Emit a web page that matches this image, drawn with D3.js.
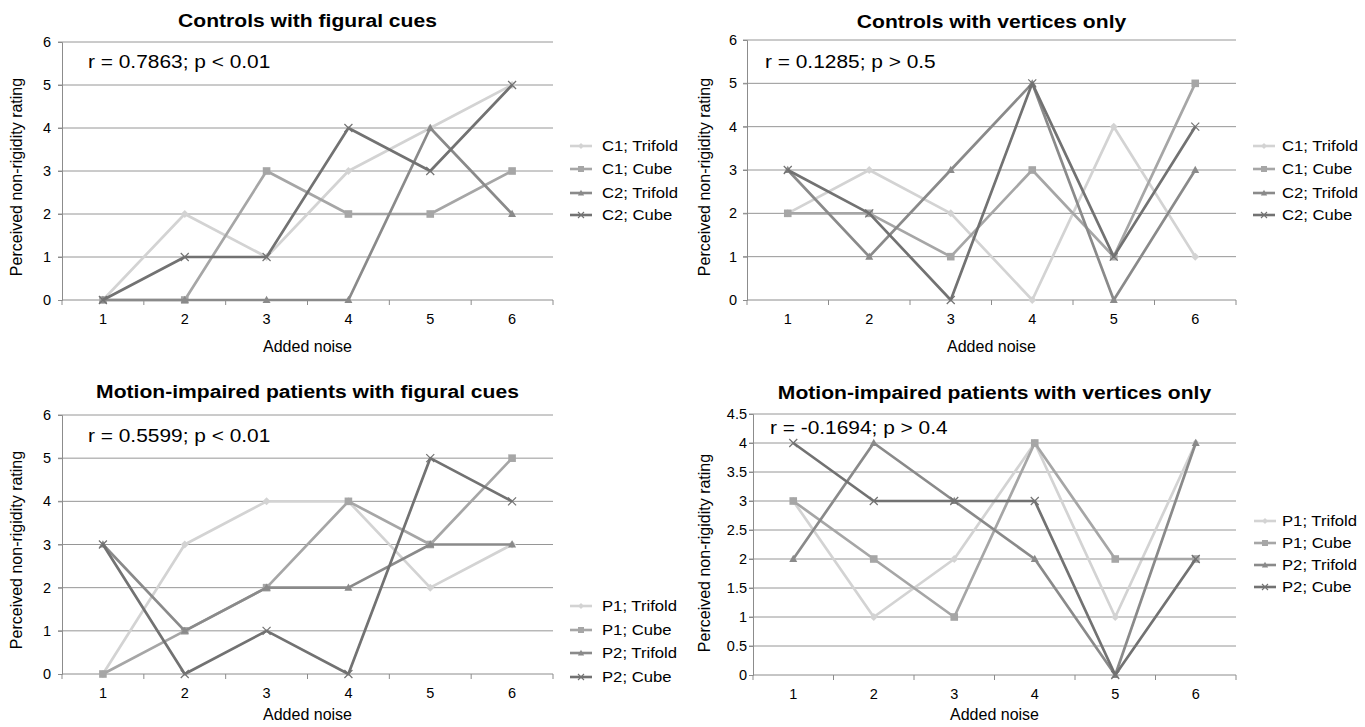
<!DOCTYPE html>
<html>
<head>
<meta charset="utf-8">
<script src="https://cdn.jsdelivr.net/npm/d3@7"></script>
<style>
  html, body { margin: 0; padding: 0; background: #fff; }
  svg { display: block; }
  text { font-family: "Liberation Sans", Arial, sans-serif; fill: #000; }
</style>
</head>
<body>
<svg id="chart" width="1365" height="727"></svg>
<script>
// ---------------- DATA ----------------
const noiseLevels = [1, 2, 3, 4, 5, 6];
const ticks0to6 = [0, 1, 2, 3, 4, 5, 6];
const ticks0to45 = [0, 0.5, 1, 1.5, 2, 2.5, 3, 3.5, 4, 4.5];

const controlNames = ["C1; Trifold", "C1; Cube", "C2; Trifold", "C2; Cube"];
const patientNames = ["P1; Trifold", "P1; Cube", "P2; Trifold", "P2; Cube"];

// Controls with figural cues
const cfC1Trifold = [0, 2, 1, 3, 4, 5];
const cfC1Cube    = [0, 0, 3, 2, 2, 3];
const cfC2Trifold = [0, 0, 0, 0, 4, 2];
const cfC2Cube    = [0, 1, 1, 4, 3, 5];

// Controls with vertices only
const cvC1Trifold = [2, 3, 2, 0, 4, 1];
const cvC1Cube    = [2, 2, 1, 3, 1, 5];
const cvC2Trifold = [3, 1, 3, 5, 0, 3];
const cvC2Cube    = [3, 2, 0, 5, 1, 4];

// Motion-impaired patients with figural cues
const pfP1Trifold = [0, 3, 4, 4, 2, 3];
const pfP1Cube    = [0, 1, 2, 4, 3, 5];
const pfP2Trifold = [3, 1, 2, 2, 3, 3];
const pfP2Cube    = [3, 0, 1, 0, 5, 4];

// Motion-impaired patients with vertices only
const pvP1Trifold = [3, 1, 2, 4, 1, 4];
const pvP1Cube    = [3, 2, 1, 4, 2, 2];
const pvP2Trifold = [2, 4, 3, 2, 0, 4];
const pvP2Cube    = [4, 3, 3, 3, 0, 2];

const titles = [
  "Controls with figural cues",
  "Controls with vertices only",
  "Motion-impaired patients with figural cues",
  "Motion-impaired patients with vertices only"
];
const annotations = [
  "r = 0.7863; p < 0.01",
  "r = 0.1285; p > 0.5",
  "r = 0.5599; p < 0.01",
  "r = -0.1694; p > 0.4"
];
const xAxisTitle = "Added noise";
const yAxisTitle = "Perceived non-rigidity rating";

// ---------------- STYLE / LAYOUT ----------------
const seriesColors = ["#d3d3d3", "#a6a6a6", "#8a8a8a", "#727272"];
const markerTypes = ["diamond", "square", "triangle", "x"];
const gridColor = "#969696";
const axisColor = "#8c8c8c";

const panels = [
  { series: [cfC1Trifold, cfC1Cube, cfC2Trifold, cfC2Cube], names: controlNames, ticks: ticks0to6, yMax: 6,
    x0: 62, x1: 553, yTop: 42, yBot: 300, titleY: 27, annX: 88, annY: 68, xTitleY: 352,
    yTitleX: 17, yTitleC: 177, tickGap: 11, legLine: 570, legText: 602, legRows: [146, 169, 193, 215] },
  { series: [cvC1Trifold, cvC1Cube, cvC2Trifold, cvC2Cube], names: controlNames, ticks: ticks0to6, yMax: 6,
    x0: 747, x1: 1236, yTop: 40, yBot: 300, titleY: 28, annX: 765, annY: 68, xTitleY: 352,
    yTitleX: 705, yTitleC: 177, tickGap: 10, legLine: 1253, legText: 1282, legRows: [146, 169, 193, 215] },
  { series: [pfP1Trifold, pfP1Cube, pfP2Trifold, pfP2Cube], names: patientNames, ticks: ticks0to6, yMax: 6,
    x0: 62, x1: 553, yTop: 415, yBot: 674, titleY: 398, annX: 88, annY: 442, xTitleY: 720,
    yTitleX: 17, yTitleC: 550, tickGap: 11, legLine: 570, legText: 602, legRows: [606, 630, 653, 677] },
  { series: [pvP1Trifold, pvP1Cube, pvP2Trifold, pvP2Cube], names: patientNames, ticks: ticks0to45, yMax: 4.5,
    x0: 753, x1: 1236, yTop: 414, yBot: 675, titleY: 399, annX: 770, annY: 434, xTitleY: 720,
    yTitleX: 705, yTitleC: 553, tickGap: 6, legLine: 1254, legText: 1282, legRows: [521, 543, 565, 587] }
];

const svg = d3.select("#chart");

function markerPath(type, r) {
  if (type === "diamond") return `M0,${-r}L${r},0L0,${r}L${-r},0Z`;
  if (type === "square") return `M${-r},${-r}H${r}V${r}H${-r}Z`;
  if (type === "triangle") return `M0,${-r * 1.1}L${r * 1.05},${r * 0.8}L${-r * 1.05},${r * 0.8}Z`;
  return `M${-r},${-r}L${r},${r}M${-r},${r}L${r},${-r}`;
}

function stretchedText(g, x, y, str, opts) {
  return g.append("text")
    .attr("transform", `translate(${x},${y}) scale(${opts.sx || 1},1)`)
    .attr("text-anchor", opts.anchor || "start")
    .style("font-size", opts.size + "px")
    .style("font-weight", opts.weight || "normal")
    .text(str);
}

panels.forEach((p, pi) => {
  const g = svg.append("g");
  const x = d3.scaleBand().domain(noiseLevels).range([p.x0, p.x1]).paddingInner(0).paddingOuter(0);
  const y = d3.scaleLinear().domain([0, p.yMax]).range([p.yBot, p.yTop]);
  const cx = v => x(v) + x.bandwidth() / 2;

  // gridlines
  g.append("g").selectAll("line").data(p.ticks.filter(t => t > 0)).join("line")
    .attr("x1", p.x0 - 4).attr("x2", p.x1)
    .attr("y1", d => y(d)).attr("y2", d => y(d))
    .attr("stroke", gridColor).attr("stroke-width", 1);

  // y axis
  const yAxis = d3.axisLeft(y).tickValues(p.ticks).tickSize(4).tickPadding(p.tickGap - 4)
    .tickFormat(d => String(d));
  const ya = g.append("g").attr("transform", `translate(${p.x0},0)`).call(yAxis);
  ya.select(".domain").attr("stroke", axisColor);
  ya.selectAll(".tick line").attr("stroke", axisColor);
  ya.selectAll(".tick text").style("font-size", "14.5px")
    .style("font-family", '"Liberation Sans", Arial, sans-serif').attr("fill", "#000");

  // x axis (ticks at category boundaries)
  const xa = g.append("g").attr("transform", `translate(0,${p.yBot})`);
  const xAxis = d3.axisBottom(x).tickSize(0).tickPadding(0).tickFormat(d => String(d));
  xa.call(xAxis);
  xa.select(".domain").attr("stroke", axisColor).attr("d", `M${p.x0},0H${p.x1}`);
  xa.selectAll(".tick text").attr("dy", null).attr("y", 24)
    .style("font-size", "14.5px").style("font-family", '"Liberation Sans", Arial, sans-serif').attr("fill", "#000");
  const bounds = noiseLevels.map(v => x(v)).concat([p.x1]);
  xa.append("g").selectAll("line").data(bounds).join("line")
    .attr("x1", d => d).attr("x2", d => d).attr("y1", 0).attr("y2", 5)
    .attr("stroke", axisColor);

  // series
  p.series.forEach((vals, si) => {
    const line = d3.line().x((d, i) => cx(noiseLevels[i])).y(d => y(d));
    g.append("path").datum(vals).attr("d", line)
      .attr("fill", "none").attr("stroke", seriesColors[si]).attr("stroke-width", 2.7)
      .attr("stroke-linejoin", "round");
    const type = markerTypes[si];
    g.append("g").selectAll("path").data(vals).join("path")
      .attr("transform", (d, i) => `translate(${cx(noiseLevels[i])},${y(d)})`)
      .attr("d", markerPath(type, type === "x" ? 4 : (type === "diamond" ? 4 : 3.8)))
      .attr("fill", type === "x" ? "none" : seriesColors[si])
      .attr("stroke", type === "x" ? seriesColors[si] : "none")
      .attr("stroke-width", type === "x" ? 1.2 : 0);
  });

  // title
  stretchedText(g, (p.x0 + p.x1) / 2, p.titleY, titles[pi], { size: 18.5, weight: "bold", sx: 1.14, anchor: "middle" });
  // annotation
  stretchedText(g, p.annX, p.annY, annotations[pi], { size: 18.5, sx: 1.13 });
  // axis titles
  g.append("text").attr("x", (p.x0 + p.x1) / 2).attr("y", p.xTitleY)
    .attr("text-anchor", "middle").style("font-size", "16px").text(xAxisTitle);
  g.append("text").attr("transform", `translate(${p.yTitleX + 5},${p.yTitleC}) rotate(-90)`)
    .attr("text-anchor", "middle").style("font-size", "16px").text(yAxisTitle);

  // legend
  p.names.forEach((name, si) => {
    const ry = p.legRows[si];
    g.append("line").attr("x1", p.legLine).attr("x2", p.legLine + 22)
      .attr("y1", ry).attr("y2", ry).attr("stroke", seriesColors[si]).attr("stroke-width", 2.6);
    const type = markerTypes[si];
    g.append("path").attr("transform", `translate(${p.legLine + 11},${ry})`)
      .attr("d", markerPath(type, 3))
      .attr("fill", type === "x" ? "none" : seriesColors[si])
      .attr("stroke", type === "x" ? seriesColors[si] : "none").attr("stroke-width", 1.1);
    stretchedText(g, p.legText, ry + 5, name, { size: 14.5, sx: 1.15 });
  });
});
</script>
</body>
</html>
